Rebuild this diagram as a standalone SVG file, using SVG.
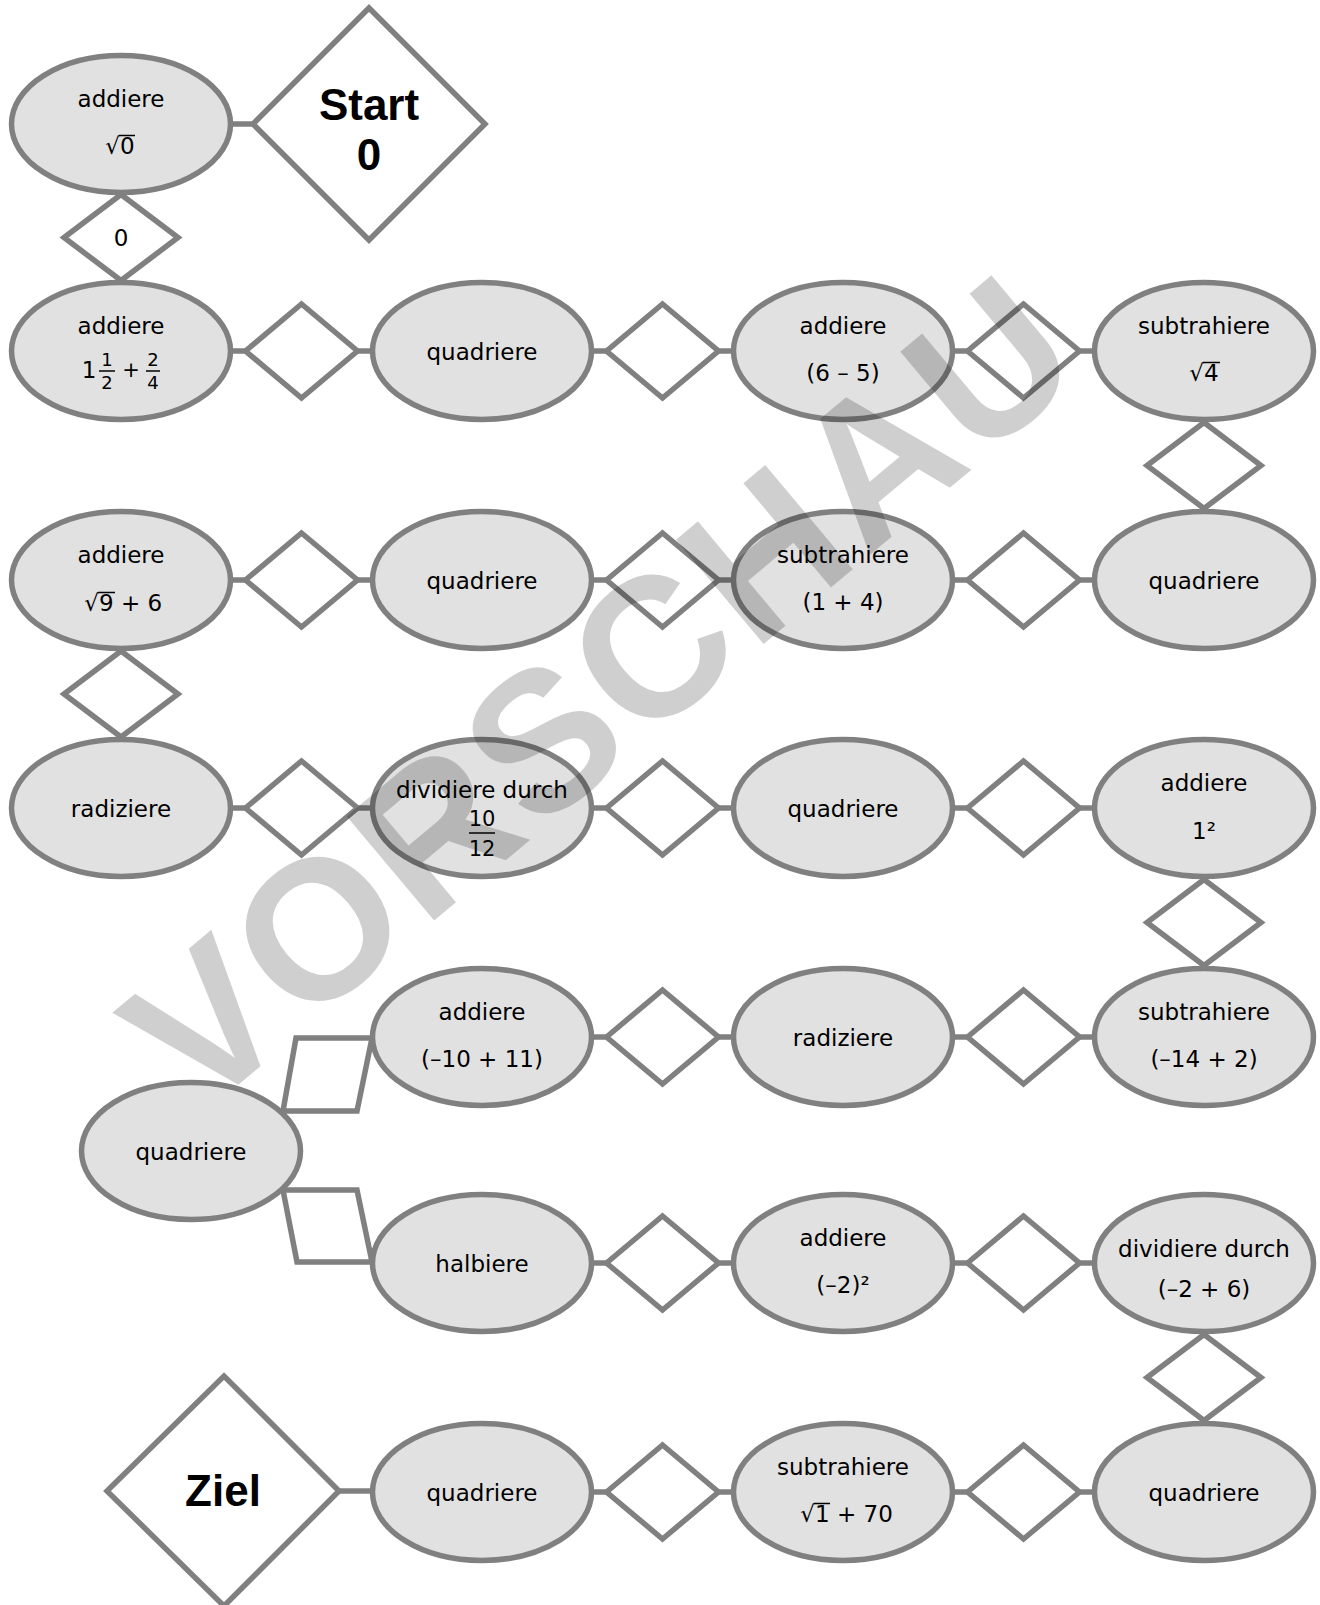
<svg xmlns="http://www.w3.org/2000/svg" width="1320" height="1605" viewBox="0 0 1320 1605">
<style>
.el{fill:#e1e1e1;stroke:#808080;stroke-width:5.5}
.dm{fill:#ffffff;stroke:#808080;stroke-width:5.5}
.cn{stroke:#808080;stroke-width:5.5;fill:none}
.t{font-family:"DejaVu Sans",sans-serif;font-size:23px;fill:#000;text-anchor:middle}
.ts{font-family:"DejaVu Sans",sans-serif;font-size:23px;fill:#000;text-anchor:start}
.te{font-family:"DejaVu Sans",sans-serif;font-size:23px;fill:#000;text-anchor:end}
.f{font-family:"DejaVu Sans",sans-serif;font-size:18px;fill:#000;text-anchor:middle}
.f2{font-family:"DejaVu Sans",sans-serif;font-size:21px;fill:#000;text-anchor:middle}
.b{font-family:"Liberation Sans",Arial,sans-serif;font-size:44px;font-weight:bold;fill:#000;text-anchor:middle}
.bar{stroke:#000;stroke-width:1.5}
.wm{font-family:"Liberation Sans",Arial,sans-serif;font-size:198px;font-weight:bold;fill:#000;fill-opacity:0.19;text-anchor:middle;letter-spacing:4px}
</style>

<g id="connectors">
  <line class="cn" x1="230" y1="124" x2="254" y2="124"/>
  <line class="cn" x1="230" y1="351" x2="246" y2="351"/>
  <line class="cn" x1="357" y1="351" x2="373" y2="351"/>
  <line class="cn" x1="591" y1="351" x2="607" y2="351"/>
  <line class="cn" x1="718" y1="351" x2="734" y2="351"/>
  <line class="cn" x1="952" y1="351" x2="968" y2="351"/>
  <line class="cn" x1="1079" y1="351" x2="1095" y2="351"/>
  <line class="cn" x1="230" y1="580" x2="246" y2="580"/>
  <line class="cn" x1="357" y1="580" x2="373" y2="580"/>
  <line class="cn" x1="591" y1="580" x2="607" y2="580"/>
  <line class="cn" x1="718" y1="580" x2="734" y2="580"/>
  <line class="cn" x1="952" y1="580" x2="968" y2="580"/>
  <line class="cn" x1="1079" y1="580" x2="1095" y2="580"/>
  <line class="cn" x1="230" y1="808" x2="246" y2="808"/>
  <line class="cn" x1="357" y1="808" x2="373" y2="808"/>
  <line class="cn" x1="591" y1="808" x2="607" y2="808"/>
  <line class="cn" x1="718" y1="808" x2="734" y2="808"/>
  <line class="cn" x1="952" y1="808" x2="968" y2="808"/>
  <line class="cn" x1="1079" y1="808" x2="1095" y2="808"/>
  <line class="cn" x1="591" y1="1037" x2="607" y2="1037"/>
  <line class="cn" x1="718" y1="1037" x2="734" y2="1037"/>
  <line class="cn" x1="952" y1="1037" x2="968" y2="1037"/>
  <line class="cn" x1="1079" y1="1037" x2="1095" y2="1037"/>
  <line class="cn" x1="591" y1="1263" x2="607" y2="1263"/>
  <line class="cn" x1="718" y1="1263" x2="734" y2="1263"/>
  <line class="cn" x1="952" y1="1263" x2="968" y2="1263"/>
  <line class="cn" x1="1079" y1="1263" x2="1095" y2="1263"/>
  <line class="cn" x1="337" y1="1491" x2="373" y2="1491"/>
  <line class="cn" x1="591" y1="1492" x2="607" y2="1492"/>
  <line class="cn" x1="718" y1="1492" x2="734" y2="1492"/>
  <line class="cn" x1="952" y1="1492" x2="968" y2="1492"/>
  <line class="cn" x1="1079" y1="1492" x2="1095" y2="1492"/>
</g>

<!-- horizontal answer diamonds -->
<g id="d-r1-1"><polygon class="dm" points="245.5,351 301.5,304 357.5,351 301.5,398"/></g>
<g id="d-r1-2"><polygon class="dm" points="606.5,351 662.5,304 718.5,351 662.5,398"/></g>
<g id="d-r1-3"><polygon class="dm" points="967.5,351 1023.5,304 1079.5,351 1023.5,398"/></g>
<g id="d-r2-1"><polygon class="dm" points="245.5,580 301.5,533 357.5,580 301.5,627"/></g>
<g id="d-r2-2"><polygon class="dm" points="606.5,580 662.5,533 718.5,580 662.5,627"/></g>
<g id="d-r2-3"><polygon class="dm" points="967.5,580 1023.5,533 1079.5,580 1023.5,627"/></g>
<g id="d-r3-1"><polygon class="dm" points="245.5,808 301.5,761 357.5,808 301.5,855"/></g>
<g id="d-r3-2"><polygon class="dm" points="606.5,808 662.5,761 718.5,808 662.5,855"/></g>
<g id="d-r3-3"><polygon class="dm" points="967.5,808 1023.5,761 1079.5,808 1023.5,855"/></g>
<g id="d-r4-2"><polygon class="dm" points="606.5,1037 662.5,990 718.5,1037 662.5,1084"/></g>
<g id="d-r4-3"><polygon class="dm" points="967.5,1037 1023.5,990 1079.5,1037 1023.5,1084"/></g>
<g id="d-r5-2"><polygon class="dm" points="606.5,1263 662.5,1216 718.5,1263 662.5,1310"/></g>
<g id="d-r5-3"><polygon class="dm" points="967.5,1263 1023.5,1216 1079.5,1263 1023.5,1310"/></g>
<g id="d-r6-2"><polygon class="dm" points="606.5,1492 662.5,1445 718.5,1492 662.5,1539"/></g>
<g id="d-r6-3"><polygon class="dm" points="967.5,1492 1023.5,1445 1079.5,1492 1023.5,1539"/></g>

<!-- vertical answer diamonds -->
<g id="d-v0"><polygon class="dm" points="121,194.5 178,237.5 121,280.5 64,237.5"/><text class="t" x="121" y="246">0</text></g>
<g id="d-v1"><polygon class="dm" points="1204,422.5 1261,465.5 1204,508.5 1147,465.5"/></g>
<g id="d-v2"><polygon class="dm" points="121,651 178,694 121,737 64,694"/></g>
<g id="d-v3"><polygon class="dm" points="1204,879.5 1261,922.5 1204,965.5 1147,922.5"/></g>
<g id="d-v5"><polygon class="dm" points="1204,1334.5 1261,1377.5 1204,1420.5 1147,1377.5"/></g>

<!-- branch parallelograms -->
<g id="d-p1"><polygon class="dm" points="296,1038 372,1038 357,1111 283,1111"/></g>
<g id="d-p2"><polygon class="dm" points="283,1190 357,1190 372,1262 297,1262"/></g>

<!-- start / goal -->
<g id="start"><polygon class="dm" points="253,124 369,8 485,124 369,240"/><text class="b" x="369" y="120">Start</text><text class="b" x="369" y="170">0</text></g>
<g id="ziel"><polygon class="dm" points="107,1491 224,1376 339,1491 224,1606"/><text class="b" x="223" y="1506">Ziel</text></g>

<!-- row 0 -->
<g id="n-r0-1"><ellipse class="el" cx="121" cy="124" rx="109.5" ry="68.5"/>
  <text class="t" x="121" y="107">addiere</text>
  <text class="te" x="120" y="154">√</text><text class="ts" x="120" y="154">0</text>
  <line class="bar" x1="119" y1="135.5" x2="135" y2="135.5"/></g>

<!-- row 1 -->
<g id="n-r1-1"><ellipse class="el" cx="121" cy="351" rx="109.5" ry="68.5"/>
  <text class="t" x="121" y="334">addiere</text>
  <text class="t" x="89" y="378">1</text>
  <text class="f" x="107" y="366">1</text><line class="bar" x1="99" y1="371" x2="115" y2="371"/><text class="f" x="107" y="389">2</text>
  <text class="f2" x="131" y="377">+</text>
  <text class="f" x="153" y="366">2</text><line class="bar" x1="146" y1="371" x2="160" y2="371"/><text class="f" x="153" y="389">4</text></g>
<g id="n-r1-2"><ellipse class="el" cx="482" cy="351" rx="109.5" ry="68.5"/><text class="t" x="482" y="360">quadriere</text></g>
<g id="n-r1-3"><ellipse class="el" cx="843" cy="351" rx="109.5" ry="68.5"/><text class="t" x="843" y="334">addiere</text><text class="t" x="843" y="381">(6 – 5)</text></g>
<g id="n-r1-4"><ellipse class="el" cx="1204" cy="351" rx="109.5" ry="68.5"/><text class="t" x="1204" y="334">subtrahiere</text>
  <text class="te" x="1204" y="381">√</text><text class="ts" x="1204" y="381">4</text>
  <line class="bar" x1="1203" y1="362.5" x2="1220" y2="362.5"/></g>

<!-- row 2 -->
<g id="n-r2-1"><ellipse class="el" cx="121" cy="580" rx="109.5" ry="68.5"/><text class="t" x="121" y="563">addiere</text>
  <text class="te" x="99" y="611">√</text><text class="ts" x="99" y="611">9 + 6</text>
  <line class="bar" x1="98" y1="592.5" x2="115" y2="592.5"/></g>
<g id="n-r2-2"><ellipse class="el" cx="482" cy="580" rx="109.5" ry="68.5"/><text class="t" x="482" y="589">quadriere</text></g>
<g id="n-r2-3"><ellipse class="el" cx="843" cy="580" rx="109.5" ry="68.5"/><text class="t" x="843" y="563">subtrahiere</text><text class="t" x="843" y="610">(1 + 4)</text></g>
<g id="n-r2-4"><ellipse class="el" cx="1204" cy="580" rx="109.5" ry="68.5"/><text class="t" x="1204" y="589">quadriere</text></g>

<!-- row 3 -->
<g id="n-r3-1"><ellipse class="el" cx="121" cy="808" rx="109.5" ry="68.5"/><text class="t" x="121" y="817">radiziere</text></g>
<g id="n-r3-2"><ellipse class="el" cx="482" cy="808" rx="109.5" ry="68.5"/><text class="t" x="482" y="798">dividiere durch</text>
  <text class="f2" x="482" y="826">10</text><line class="bar" x1="469" y1="833" x2="495" y2="833"/><text class="f2" x="482" y="856">12</text></g>
<g id="n-r3-3"><ellipse class="el" cx="843" cy="808" rx="109.5" ry="68.5"/><text class="t" x="843" y="817">quadriere</text></g>
<g id="n-r3-4"><ellipse class="el" cx="1204" cy="808" rx="109.5" ry="68.5"/><text class="t" x="1204" y="791">addiere</text><text class="t" x="1204" y="839">1²</text></g>

<!-- row 4 -->
<g id="n-r4-2"><ellipse class="el" cx="482" cy="1037" rx="109.5" ry="68.5"/><text class="t" x="482" y="1020">addiere</text><text class="t" x="482" y="1067">(–10 + 11)</text></g>
<g id="n-r4-3"><ellipse class="el" cx="843" cy="1037" rx="109.5" ry="68.5"/><text class="t" x="843" y="1046">radiziere</text></g>
<g id="n-r4-4"><ellipse class="el" cx="1204" cy="1037" rx="109.5" ry="68.5"/><text class="t" x="1204" y="1020">subtrahiere</text><text class="t" x="1204" y="1067">(–14 + 2)</text></g>

<!-- branch node -->
<g id="n-branch"><ellipse class="el" cx="191" cy="1151" rx="109.5" ry="68.5"/><text class="t" x="191" y="1160">quadriere</text></g>

<!-- row 5 -->
<g id="n-r5-2"><ellipse class="el" cx="482" cy="1263" rx="109.5" ry="68.5"/><text class="t" x="482" y="1272">halbiere</text></g>
<g id="n-r5-3"><ellipse class="el" cx="843" cy="1263" rx="109.5" ry="68.5"/><text class="t" x="843" y="1246">addiere</text><text class="t" x="843" y="1293">(–2)²</text></g>
<g id="n-r5-4"><ellipse class="el" cx="1204" cy="1263" rx="109.5" ry="68.5"/><text class="t" x="1204" y="1257">dividiere durch</text><text class="t" x="1204" y="1297">(–2 + 6)</text></g>

<!-- row 6 -->
<g id="n-r6-2"><ellipse class="el" cx="482" cy="1492" rx="109.5" ry="68.5"/><text class="t" x="482" y="1501">quadriere</text></g>
<g id="n-r6-3"><ellipse class="el" cx="843" cy="1492" rx="109.5" ry="68.5"/><text class="t" x="843" y="1475">subtrahiere</text>
  <text class="te" x="815" y="1522">√</text><text class="ts" x="815" y="1522">1 + 70</text>
  <line class="bar" x1="814" y1="1503.5" x2="830" y2="1503.5"/></g>
<g id="n-r6-4"><ellipse class="el" cx="1204" cy="1492" rx="109.5" ry="68.5"/><text class="t" x="1204" y="1501">quadriere</text></g>

<!-- watermark -->
<g id="watermark" transform="translate(600,690) rotate(-40)"><text class="wm" x="0" y="70">VORSCHAU</text></g>
</svg>
